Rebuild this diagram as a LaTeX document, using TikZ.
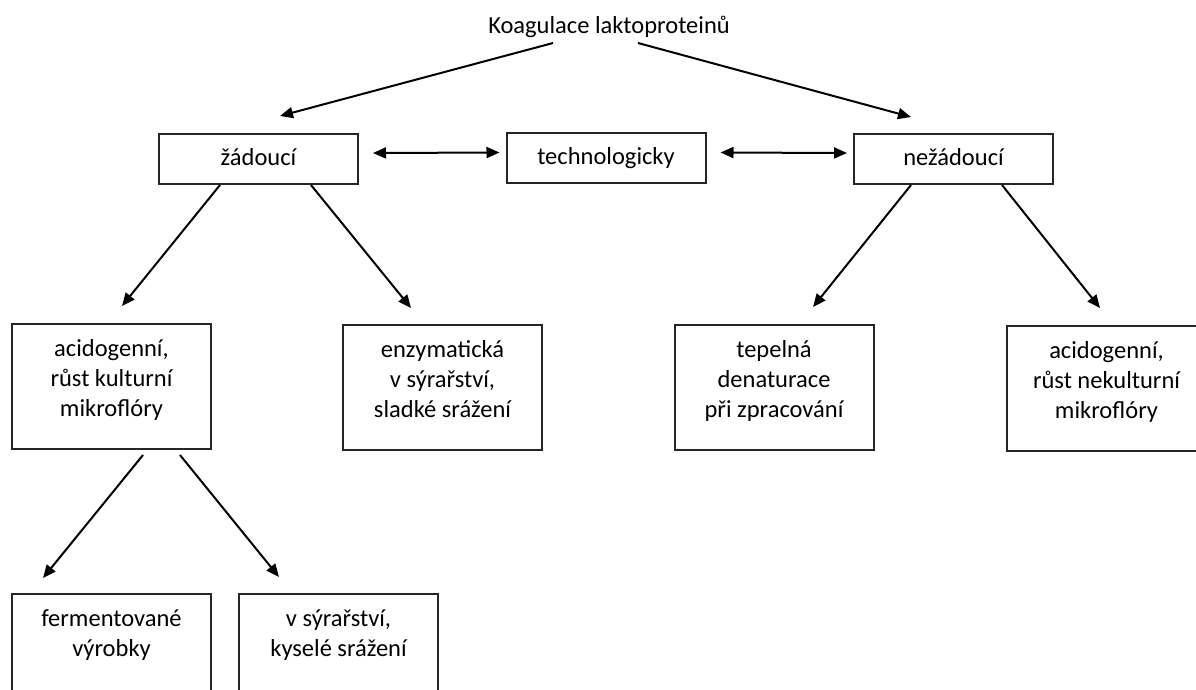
\documentclass[tikz,border=0pt]{standalone}
\usepackage{fontspec}
\setmainfont{Carlito}
\usetikzlibrary{arrows.meta,calc}
\newcommand{\tbtext}[1]{\parbox[c][125pt][t]{199pt}{\centering\vspace*{11pt}\strut#1\par}}
\tikzset{
  txt/.style={font=\fontsize{24.5pt}{30pt}\selectfont, text=black},
  smallbox/.style={txt, draw=black!85, line width=2pt, minimum width=199pt, minimum height=50pt,
    text height=12pt, text depth=0pt, inner sep=0pt},
  tallbox/.style={txt, draw=black!85, line width=2pt, inner sep=0pt},
  arr/.style={line width=2pt, draw=black, -{Triangle[length=13pt,width=11pt]}},
  darr/.style={line width=2pt, draw=black, {Triangle[length=13pt,width=11pt]}-{Triangle[length=13pt,width=11pt]}}
}
\begin{document}
\begin{tikzpicture}[x=1pt,y=-1pt]
\useasboundingbox (0,0) rectangle (1196,689);
\fill[white] (0,0) rectangle (1196,689);

\node[txt, anchor=base] (title) at (609,33) {Koagulace laktoproteinů};

\node[smallbox] (zad) at (258.5,159) {žádoucí};
\node[smallbox] (tech) at (606,158) {technologicky};
\node[smallbox] (nezad) at (953.5,159) {nežádoucí};

\node[tallbox] (acid1) at (111.5,386.5) {\tbtext{acidogenní,\\ růst kulturní\\ mikroflóry}};
\node[tallbox] (enz) at (442.5,387.5) {\tbtext{enzymatická\\ v sýrařství,\\ sladké srážení}};
\node[tallbox] (tep) at (774,387.5) {\tbtext{tepelná\\ denaturace\\ při zpracování}};
\node[tallbox] (acid2) at (1106.5,388.5) {\tbtext{acidogenní,\\ růst nekulturní\\ mikroflóry}};

\node[tallbox] (ferm) at (111.5,656.5) {\tbtext{fermentované\\ výrobky}};
\node[tallbox] (syr) at (338.5,656.5) {\tbtext{v sýrařství,\\ kyselé srážení}};

\draw[arr] ($(title.base)+(-56,10)$) -- ($(zad.north)+(21.5,-17)$);
\draw[arr] ($(title.base)+(29,10)$) -- ($(nezad.north)+(-42.5,-16)$);

\draw[darr] ($(zad.east)+(14,-6)$) -- ($(tech.west)+(-6,-5.5)$);
\draw[darr] ($(tech.east)+(14,-5.5)$) -- ($(nezad.west)+(-6,-6)$);

\draw[arr] ($(zad.south)+(-38.5,0)$) -- ($(acid1.north)+(10.5,-17)$);
\draw[arr] ($(zad.south)+(52.5,0)$) -- ($(enz.north)+(-31.5,-16)$);
\draw[arr] ($(nezad.south)+(-42.5,0)$) -- ($(tep.north)+(39,-17)$);
\draw[arr] ($(nezad.south)+(48.5,0)$) -- ($(acid2.north)+(-6.5,-17)$);

\draw[arr] ($(acid1.south)+(31.5,5)$) -- ($(ferm.north)+(-68.5,-15)$);
\draw[arr] ($(acid1.south)+(68.5,5)$) -- ($(syr.north)+(-59.5,-16)$);
\end{tikzpicture}
\end{document}
